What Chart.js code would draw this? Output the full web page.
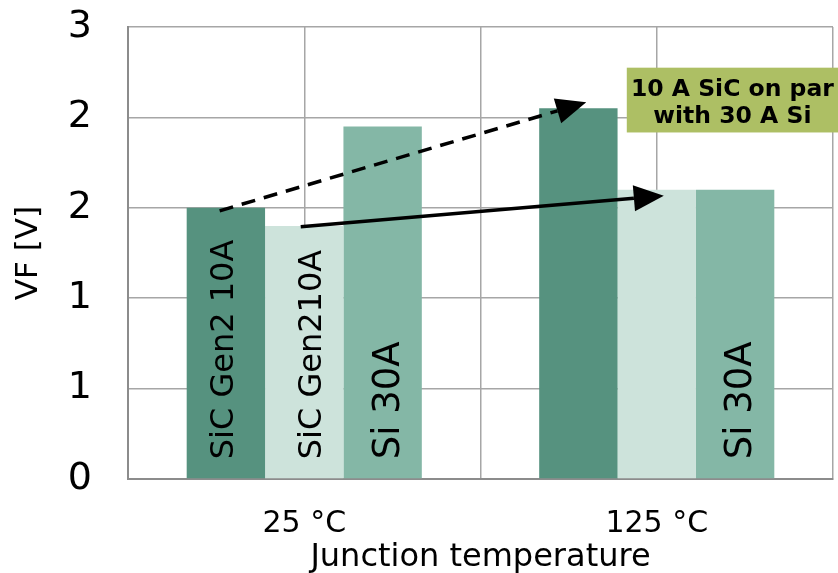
<!DOCTYPE html>
<html>
<head>
<meta charset="utf-8">
<script src="https://cdn.jsdelivr.net/npm/chart.js@4"></script>
<style>
  html, body { margin: 0; padding: 0; background: #fff; }
  #wrap { width: 838px; height: 573px; }
</style>
</head>
<body>
<div id="wrap"><canvas id="vf-chart"></canvas></div>
<script>
// data
const temperatures = ['25 °C', '125 °C'];
const seriesNames = ['SiC Gen2 10A', 'SiC Gen2 10A (2)', 'Si 30A'];
const sicGen2A = [1.80, 2.46];
const sicGen2B = [1.68, 1.92];
const si30A = [2.34, 1.92];
const barTexts = [['SiC Gen2 10A', ''], ['SiC Gen210A', ''], ['Si 30A', 'Si 30A']];
const yTicks = [0, 0.6, 1.2, 1.8, 2.4, 3];

// annotation arrows, in [category index, volts]
const dashedArrow = [[-0.24, 1.78], [0.80, 2.50]];
const solidArrow = [[-0.01, 1.675], [1.02, 1.88]];
const noteLines = ['10 A SiC on par', 'with 30 A Si'];
const noteBox = [[0.915, 2.73], [1.5, 2.30]];

const FONT = 'DejaVu Sans';
const colors = ['#56927f', '#cde3db', '#84b7a6'];

function drawArrow(ctx, x1, y1, x2, y2, dash) {
    const ang = Math.atan2(y2 - y1, x2 - x1);
    const headLen = 30, headW = 13;
    const bx = x2 - headLen * Math.cos(ang), by = y2 - headLen * Math.sin(ang);
    ctx.save();
    ctx.strokeStyle = '#000';
    ctx.fillStyle = '#000';
    ctx.lineWidth = 3.5;
    ctx.setLineDash(dash);
    ctx.beginPath();
    ctx.moveTo(x1, y1);
    ctx.lineTo(bx, by);
    ctx.stroke();
    ctx.setLineDash([]);
    ctx.beginPath();
    ctx.moveTo(x2, y2);
    ctx.lineTo(bx + headW * Math.sin(ang), by - headW * Math.cos(ang));
    ctx.lineTo(bx - headW * Math.sin(ang), by + headW * Math.cos(ang));
    ctx.closePath();
    ctx.fill();
    ctx.restore();
}

const barTextPlugin = {
    id: 'barText',
    afterDatasetsDraw(chart) {
        const ctx = chart.ctx;
        const sizes = [32, 32, 37];
        const shift = [7, 17, 16];
        chart.data.datasets.forEach((ds, di) => {
            chart.getDatasetMeta(di).data.forEach((bar, i) => {
                const txt = barTexts[di][i];
                if (!txt) return;
                ctx.save();
                ctx.translate(bar.x + shift[di], bar.base - 19);
                ctx.rotate(-Math.PI / 2);
                ctx.font = `${sizes[di]}px "${FONT}"`;
                ctx.fillStyle = '#000';
                ctx.textAlign = 'left';
                ctx.textBaseline = 'alphabetic';
                ctx.fillText(txt, 0, 0);
                ctx.restore();
            });
        });
    }
};

const notePlugin = {
    id: 'note',
    afterDraw(chart) {
        const ctx = chart.ctx;
        const x = chart.scales.x, y = chart.scales.y;
        const px = p => [x.getPixelForValue(p[0]), y.getPixelForValue(p[1])];
        const d0 = px(dashedArrow[0]), d1 = px(dashedArrow[1]);
        drawArrow(ctx, d0[0], d0[1], d1[0], d1[1], [14, 9]);
        const s0 = px(solidArrow[0]), s1 = px(solidArrow[1]);
        drawArrow(ctx, s0[0], s0[1], s1[0], s1[1], []);

        const b0 = px(noteBox[0]), b1 = px(noteBox[1]);
        const right = chart.width;
        ctx.save();
        ctx.fillStyle = '#adbf64';
        ctx.fillRect(b0[0], b0[1], right - b0[0], b1[1] - b0[1]);
        ctx.fillStyle = '#000';
        ctx.font = `bold 23.5px "${FONT}"`;
        ctx.textAlign = 'center';
        ctx.textBaseline = 'alphabetic';
        const cx = (b0[0] + right) / 2;
        ctx.fillText(noteLines[0], cx, b0[1] + 28);
        ctx.fillText(noteLines[1], cx, b0[1] + 55);
        ctx.restore();
    }
};

new Chart(document.getElementById('vf-chart'), {
    type: 'bar',
    data: {
        labels: temperatures,
        datasets: [
            { label: seriesNames[0], data: sicGen2A, backgroundColor: colors[0] },
            { label: seriesNames[1], data: sicGen2B, backgroundColor: colors[1] },
            { label: seriesNames[2], data: si30A, backgroundColor: colors[2] }
        ]
    },
    options: {
        responsive: true,
        maintainAspectRatio: false,
        animation: false,
        layout: { padding: { left: 0, right: 5, top: 27, bottom: 0 } },
        datasets: { bar: { categoryPercentage: 0.667, barPercentage: 1.0, borderWidth: 0 } },
        plugins: { legend: { display: false }, tooltip: { enabled: false } },
        scales: {
            x: {
                offset: true,
                grid: { offset: true, color: '#a6a6a6', lineWidth: 1.5, drawTicks: false },
                border: { color: '#8c8c8c', width: 2 },
                ticks: { font: { family: FONT, size: 30 }, color: '#000', padding: 27 },
                title: { display: true, text: 'Junction temperature', font: { family: FONT, size: 32 }, color: '#000', padding: { top: 0, bottom: -4 } },
                afterFit: s => { s.height = 94; }
            },
            x2: {
                type: 'category',
                position: 'bottom',
                offset: true,
                grid: { offset: false, color: '#a6a6a6', lineWidth: 1.5, drawTicks: false },
                border: { display: false },
                ticks: { display: false },
                afterFit: s => { s.height = 0; }
            },
            y: {
                min: 0,
                max: 3,
                afterBuildTicks: s => { s.ticks = yTicks.map(v => ({ value: v })); },
                grid: { color: '#a6a6a6', lineWidth: 1.5, drawTicks: false },
                border: { color: '#8c8c8c', width: 2 },
                ticks: {
                    font: { family: FONT, size: 38 },
                    color: '#000',
                    padding: 36,
                    callback: v => String(Math.round(v))
                },
                title: { display: true, text: 'VF [V]', font: { family: FONT, size: 31 }, color: '#000', padding: { top: 10, bottom: 0 } },
                afterFit: s => { s.width = 128; s.paddingTop = 0; s.paddingBottom = 0; }
            }
        }
    },
    plugins: [barTextPlugin, notePlugin]
});
</script>
</body>
</html>
